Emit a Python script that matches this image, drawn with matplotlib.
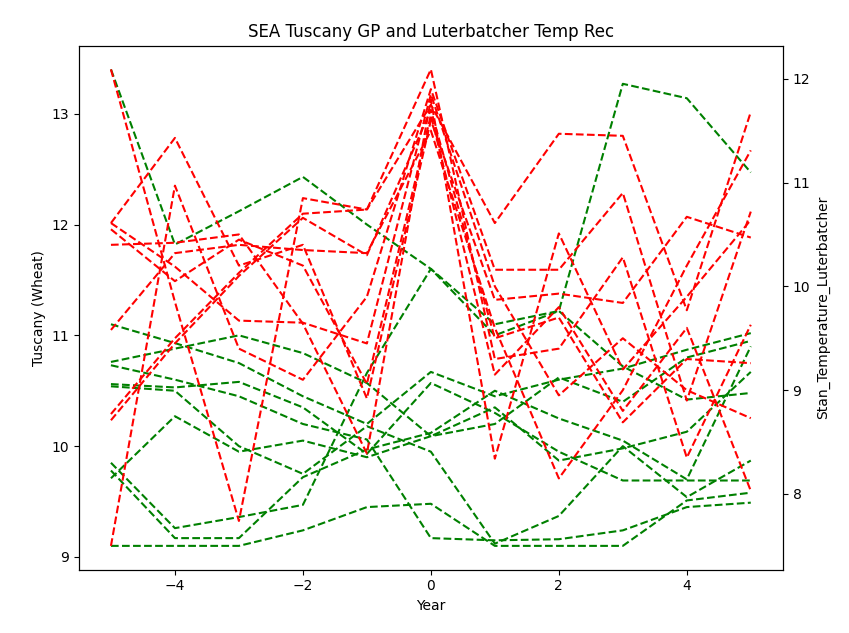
import matplotlib
matplotlib.use("Agg")
import matplotlib.pyplot as plt
import numpy as np

years = [-5, -4, -3, -2, -1, 0, 1, 2, 3, 4, 5]

# Tuscany grain price around each event year (left axis)
wheat = [
    [13.40, 11.82, 12.12, 12.43, 12.00, 11.60, 11.10, 11.22, 13.27, 13.14, 12.47],
    [9.85, 9.26, 9.36, 9.47, 10.66, 11.60, 11.00, 11.22, 10.72, 10.42, 10.48],
    [11.10, 10.93, 10.75, 10.45, 10.20, 10.67, 10.45, 10.60, 10.70, 10.87, 11.02],
    [10.76, 10.88, 11.00, 10.84, 10.57, 10.09, 10.35, 9.87, 9.98, 10.13, 10.67],
    [10.73, 10.60, 10.45, 10.20, 10.06, 9.17, 9.15, 9.16, 9.24, 9.45, 9.49],
    [10.56, 10.53, 10.58, 10.35, 9.93, 10.57, 10.30, 9.95, 9.69, 9.69, 9.69],
    [10.54, 10.50, 10.00, 9.75, 10.18, 9.95, 9.12, 9.37, 10.00, 9.54, 9.87],
    [9.71, 10.27, 9.95, 10.05, 9.90, 10.09, 10.20, 10.62, 10.40, 10.80, 10.95],
    [9.10, 9.10, 9.10, 9.24, 9.45, 9.48, 9.10, 9.10, 9.10, 9.51, 9.58],
    [9.78, 9.17, 9.17, 9.72, 9.97, 10.12, 10.50, 10.25, 10.05, 9.70, 10.90],
]

# Luterbacher temperature reconstruction around each event year (right axis)
temp = [
    [12.09, 9.85, 7.74, 10.85, 10.74, 11.75, 10.61, 11.47, 11.45, 9.77, 11.68],
    [7.50, 10.97, 9.40, 9.10, 9.90, 11.90, 10.16, 10.16, 10.90, 8.90, 10.72],
    [10.61, 11.43, 10.20, 10.40, 8.92, 11.60, 9.87, 9.93, 9.84, 10.67, 10.47],
    [10.40, 10.42, 10.50, 9.64, 8.39, 11.80, 8.34, 10.51, 9.20, 9.90, 10.64],
    [9.58, 10.32, 10.40, 10.35, 10.32, 11.50, 9.60, 8.15, 9.00, 10.20, 11.31],
    [8.77, 9.50, 10.13, 10.70, 10.74, 12.09, 9.30, 9.40, 10.28, 8.35, 9.63],
    [8.71, 9.45, 10.10, 10.66, 10.30, 11.70, 9.50, 9.70, 8.69, 9.30, 9.26],
    [10.61, 10.19, 9.67, 9.65, 9.45, 11.85, 10.00, 8.95, 9.50, 9.00, 8.73],
    [10.55, 10.05, 10.45, 10.20, 9.06, 11.65, 9.15, 9.80, 8.80, 9.60, 8.03],
]

fig, ax = plt.subplots(figsize=(8.49, 6.33), dpi=100)
for w in wheat:
    ax.plot(years, w, color="green", ls="--")
ax.set_xlabel("Year")
ax.set_ylabel("Tuscany (Wheat)")

ax2 = ax.twinx()
for t in temp:
    ax2.plot(years, t, color="red", ls="--")
ax2.set_ylabel("Stan_Temperature_Luterbatcher")

ax.set_title("SEA Tuscany GP and Luterbatcher Temp Rec")
fig.subplots_adjust(left=0.093, right=0.922, top=0.928, bottom=0.1)
fig.savefig("out.png", dpi=100)
